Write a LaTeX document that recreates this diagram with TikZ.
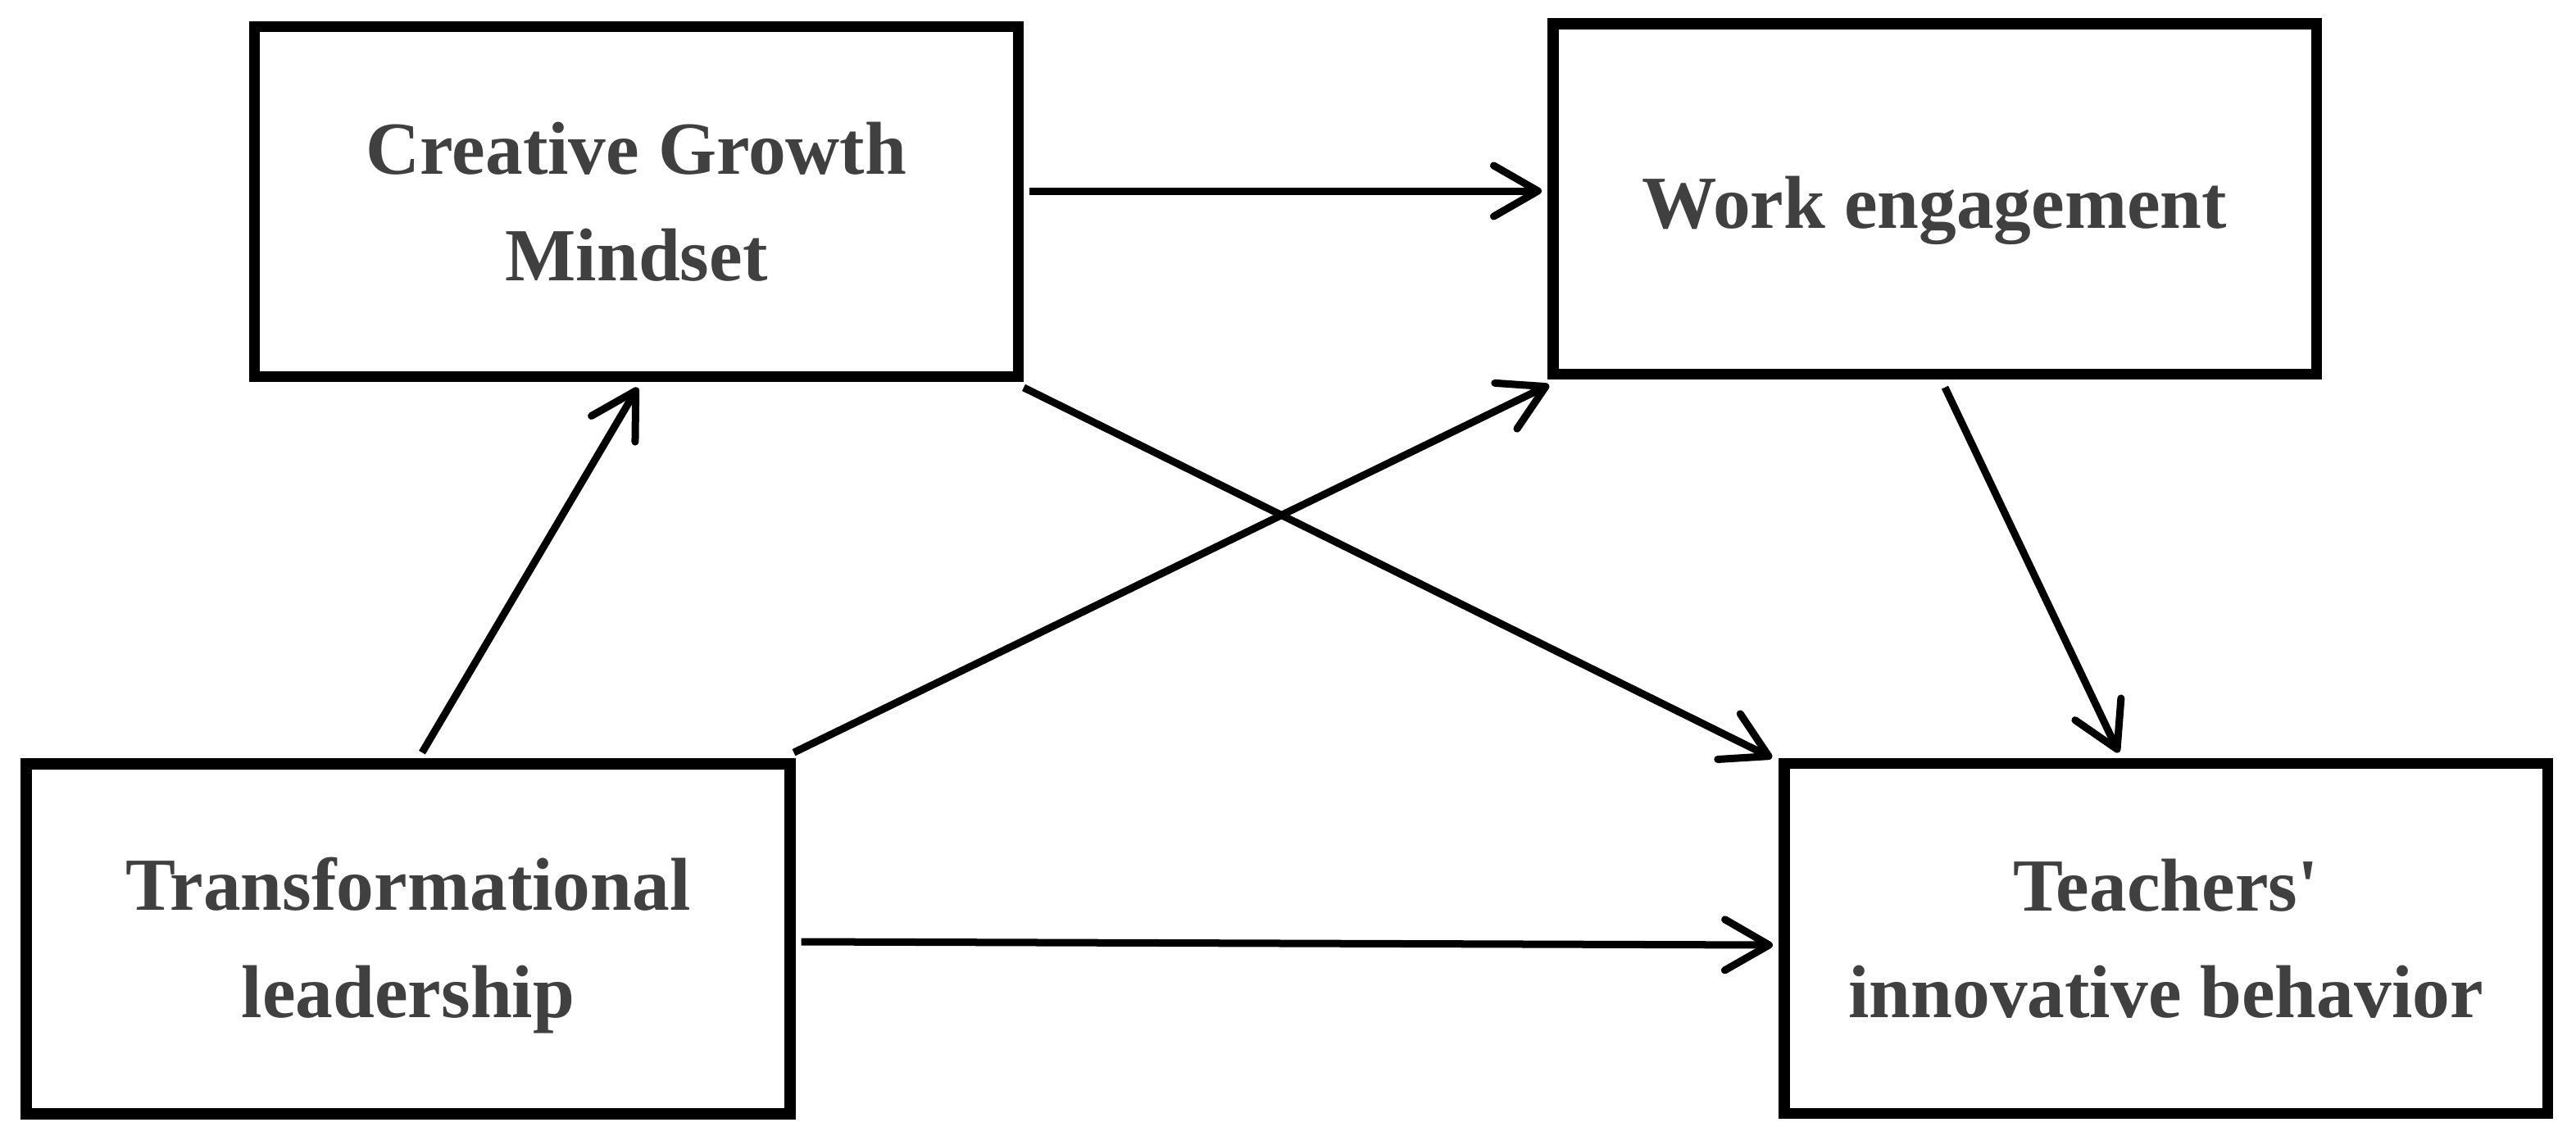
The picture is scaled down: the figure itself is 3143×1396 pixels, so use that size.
\documentclass[tikz,border=0pt]{standalone}
\usepackage{fontspec}
\setmainfont{Liberation Serif}
\usetikzlibrary{arrows.meta}
\definecolor{txtgray}{HTML}{404040}
\begin{document}
\begin{tikzpicture}[x=0.01cm,y=-0.01cm,
  txt/.style={inner sep=0pt, align=center, text=txtgray,
    font=\fontsize{26}{37}\selectfont\bfseries},
  box/.style={draw=black, line width=0.135cm, minimum width=9.31cm, minimum height=4.27cm, txt},
  arr/.style={draw=black, line width=0.09cm,
    -{Straight Barb[length=0.54cm, width=0.62cm, round]}}]
\useasboundingbox (0,0) rectangle (3143,1396);
\fill[white] (0,0) rectangle (3143,1396);

\node[box] (CGM) at (776.5,246) {Creative Growth\\Mindset};
\node[box, label={[txt, yshift=-0.14cm]center:Work engagement}] (WE) at (2360.5,242.75) {};
\node[box, label={[txt, yshift=-0.08cm]center:Transformational\\leadership}] (TL) at (498,1145.5) {};
\node[box] (TIB) at (2642.5,1145) {Teachers\textquotesingle\\innovative behavior};

\draw[arr] ([shift={(17,-7)}]TL.north) -- ([shift={(1.5,6.5)}]CGM.south);
\draw[arr] ([shift={(-2,-7)}]TL.north east) -- ([shift={(2,6.5)}]WE.south west);
\draw[arr] ([shift={(7,3.5)}]TL.east) -- ([shift={(-7,8)}]TIB.west);
\draw[arr] ([shift={(7,-13)}]CGM.east) -- ([shift={(-7,-9.75)}]WE.west);
\draw[arr] ([shift={(0,6.5)}]CGM.south east) -- ([shift={(-8,0)}]TIB.north west);
\draw[arr] ([shift={(12.5,9.5)}]WE.south) -- ([shift={(-57.5,-6.5)}]TIB.north);
\end{tikzpicture}
\end{document}
